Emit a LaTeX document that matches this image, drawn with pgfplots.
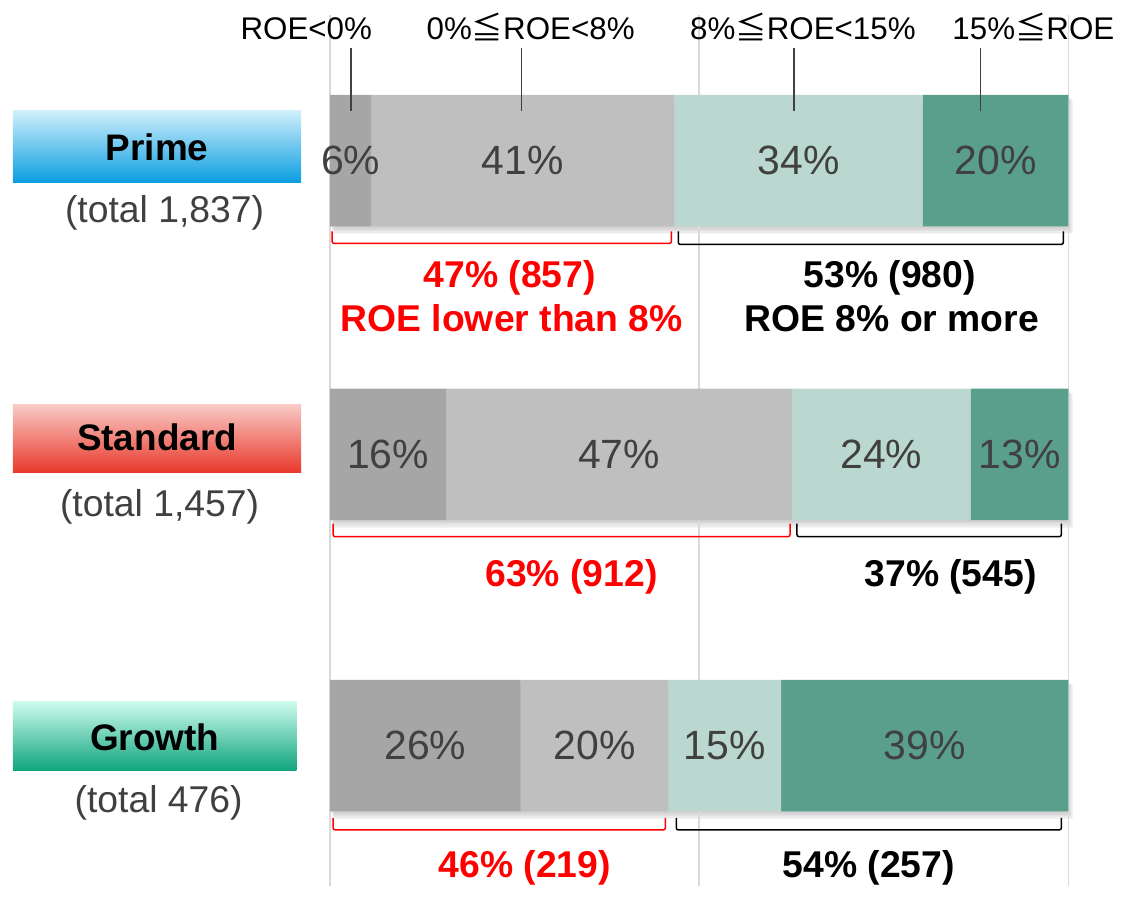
\documentclass[border=0pt]{standalone}
\usepackage{fontspec}
\setmainfont{Liberation Sans}
\newfontfamily\cjk{Noto Sans CJK JP}
\usepackage{pgfplots}
\usepackage{pgfplotstable}
\pgfplotsset{compat=1.18}
\definecolor{cA}{HTML}{A6A6A6}
\definecolor{cB}{HTML}{BFBFBF}
\definecolor{cC}{HTML}{BBD8D0}
\definecolor{cD}{HTML}{5A9F8B}
\definecolor{txt}{HTML}{404040}
\definecolor{gridc}{HTML}{D9D9D9}
\definecolor{rd}{HTML}{FF0000}
\newcommand{\fs}[1]{\fontsize{#1}{#1}\selectfont}
\newcommand{\leqq}{{\cjk ≦}}
\pgfplotstableread{
x y lab
2.77 161 6\%
26.08 161 41\%
63.45 161 34\%
90.14 161 20\%
7.84 455.5 16\%
39.13 455.5 47\%
74.67 455.5 24\%
93.38 455.5 13\%
12.90 747.5 26\%
35.81 747.5 20\%
53.45 747.5 15\%
80.54 747.5 39\%
}\labtab
\pgfplotsset{base/.style={
  scale only axis,
  width=370pt, height=436.5pt,
  xmin=0, xmax=100, ymin=15, ymax=888,
  y dir=reverse, clip=false}}
\begin{document}
\begin{tikzpicture}
% soft drop shadows under the bars (drawn first, behind)
\begin{axis}[base, hide axis]
\pgfplotsinvokeforeach{1,2,3,4,5}{
  \fill[black, opacity=0.04] (axis cs:{0.1*#1},{95+#1}) rectangle (axis cs:{100+0.12*#1},{227+1.6*#1});
  \fill[black, opacity=0.04] (axis cs:{0.1*#1},{389.5+#1}) rectangle (axis cs:{100+0.12*#1},{521.5+1.6*#1});
  \fill[black, opacity=0.04] (axis cs:{0.1*#1},{681.5+#1}) rectangle (axis cs:{100+0.12*#1},{813.5+1.6*#1});
}
\end{axis}
\begin{axis}[
  base,
  xbar stacked, bar width=132,
  axis line style={draw=none},
  tick style={draw=none},
  xtick={0,50,100}, xticklabels={},
  ytick=\empty,
  xmajorgrids,
  major grid style={gridc, line width=0.75pt},
]
\addplot[fill=cA, draw=none] coordinates {(5.54,161) (15.68,455.5) (25.81,747.5)};
\addplot[fill=cB, draw=none] coordinates {(41.08,161) (46.89,455.5) (20.00,747.5)};
\addplot[fill=cC, draw=none] coordinates {(33.65,161) (24.19,455.5) (15.27,747.5)};
\addplot[fill=cD, draw=none] coordinates {(19.73,161) (13.24,455.5) (38.92,747.5)};
\end{axis}
\begin{axis}[base, hide axis]
\path (axis cs:-44.73,0) rectangle (axis cs:106.76,888);
\addplot[draw=none, mark=none,
  nodes near coords, point meta=explicit symbolic,
  every node near coord/.style={anchor=center, text=txt, font=\fs{20.5pt}}]
  table[x=x, y=y, meta=lab] {\labtab};
% header labels
\begin{scope}[font=\fs{15.7pt}]
\node[anchor=base] at (axis cs:-3.24,40) {ROE<0\%};
\node[anchor=base] at (axis cs:27.16,40) {0\%\leqq ROE<8\%};
\node[anchor=base] at (axis cs:64.05,40) {8\%\leqq ROE<15\%};
\node[anchor=base] at (axis cs:95.27,40) {15\%\leqq ROE};
\end{scope}
\draw[txt, line width=0.7pt] (axis cs:2.84,48) -- (axis cs:2.84,111);
\draw[txt, line width=0.7pt] (axis cs:25.95,48) -- (axis cs:25.95,111);
\draw[txt, line width=0.7pt] (axis cs:62.84,48) -- (axis cs:62.84,111);
\draw[txt, line width=0.7pt] (axis cs:88.11,48) -- (axis cs:88.11,111);
% category boxes
\shade[top color={rgb,255:red,208;green,239;blue,252}, middle color={rgb,255:red,128;green,204;blue,242}, bottom color={rgb,255:red,10;green,157;blue,224}]
  (axis cs:-42.97,111) rectangle (axis cs:-3.92,183);
\shade[top color={rgb,255:red,249;green,201;blue,197}, middle color={rgb,255:red,240;green,150;blue,140}, bottom color={rgb,255:red,232;green,56;blue,42}]
  (axis cs:-42.97,406) rectangle (axis cs:-3.92,474);
\shade[top color={rgb,255:red,207;green,252;blue,238}, middle color={rgb,255:red,140;green,222;blue,198}, bottom color={rgb,255:red,16;green,165;blue,126}]
  (axis cs:-42.97,703) rectangle (axis cs:-4.59,772);
\begin{scope}[font=\fs{18.5pt}\bfseries]
\node[anchor=base] at (axis cs:-23.45,161) {Prime};
\node[anchor=base] at (axis cs:-23.45,452) {Standard};
\node[anchor=base] at (axis cs:-23.78,752) {Growth};
\end{scope}
\begin{scope}[font=\fs{18.7pt}, text=txt]
\node[anchor=base] at (axis cs:-22.43,223) {(total 1,837)};
\node[anchor=base] at (axis cs:-23.11,518) {(total 1,457)};
\node[anchor=base] at (axis cs:-23.24,815) {(total 476)};
\end{scope}
% brackets
\begin{scope}[line width=0.75pt, rounded corners=1pt]
\draw[rd] (axis cs:0.27,232) -- (axis cs:0.27,244) -- (axis cs:46.22,244) -- (axis cs:46.22,232);
\draw[black] (axis cs:47.16,232) -- (axis cs:47.16,245) -- (axis cs:99.32,245) -- (axis cs:99.32,232);
\draw[rd] (axis cs:0.41,525) -- (axis cs:0.41,538) -- (axis cs:62.30,538) -- (axis cs:62.30,525);
\draw[black] (axis cs:63.24,525) -- (axis cs:63.24,538) -- (axis cs:99.05,538) -- (axis cs:99.05,525);
\draw[rd] (axis cs:0.41,820) -- (axis cs:0.41,832) -- (axis cs:45.41,832) -- (axis cs:45.41,820);
\draw[black] (axis cs:46.89,820) -- (axis cs:46.89,832) -- (axis cs:99.05,832) -- (axis cs:99.05,820);
\end{scope}
\begin{scope}[font=\fs{18.7pt}\bfseries]
\node[anchor=base, text=rd] at (axis cs:24.32,288) {47\% (857)};
\node[anchor=base, text=rd] at (axis cs:24.59,332) {ROE lower than 8\%};
\node[anchor=base] at (axis cs:75.81,288) {53\% (980)};
\node[anchor=base] at (axis cs:76.08,332) {ROE 8\% or more};
\node[anchor=base, text=rd] at (axis cs:32.70,588) {63\% (912)};
\node[anchor=base] at (axis cs:84.05,588) {37\% (545)};
\node[anchor=base, text=rd] at (axis cs:26.35,880) {46\% (219)};
\node[anchor=base] at (axis cs:72.97,880) {54\% (257)};
\end{scope}
\end{axis}
\end{tikzpicture}
\end{document}
